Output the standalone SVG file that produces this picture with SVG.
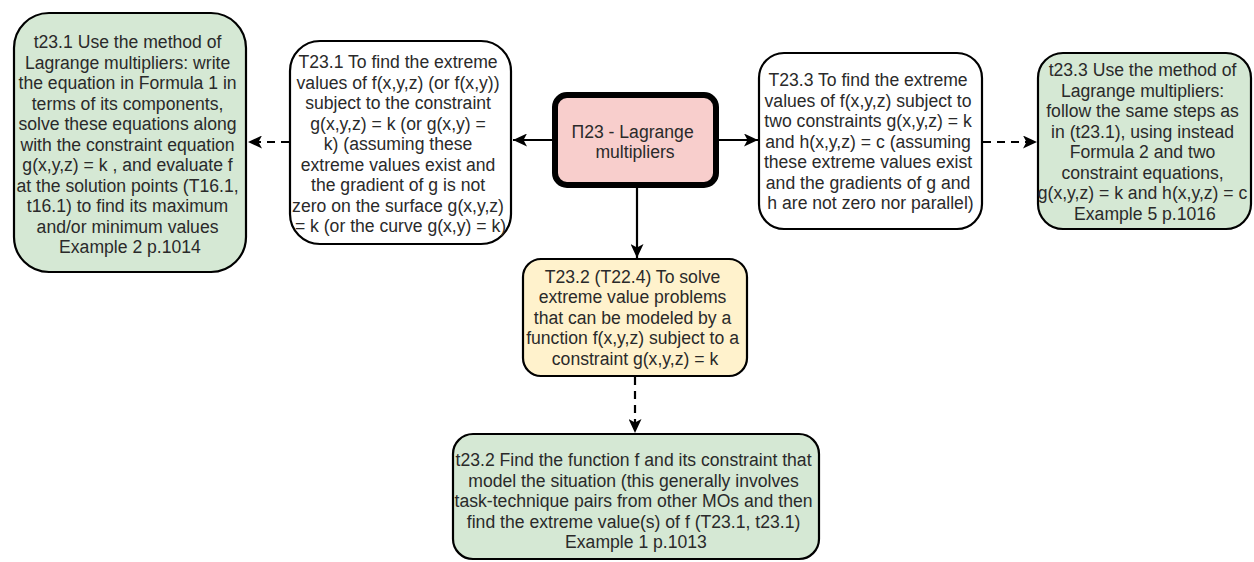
<svg xmlns="http://www.w3.org/2000/svg" width="1254" height="562" viewBox="0 0 1254 562">
<defs>
<style>
.box{stroke:#000;stroke-width:2.2}
.g{fill:#d5e8d4}
.w{fill:#ffffff}
.y{fill:#fff2cc}
.p{fill:#f8cecc;stroke:#000;stroke-width:6}
text{font-family:"Liberation Sans",Arial,sans-serif;font-size:17.6px;fill:#2a2a2a;text-anchor:middle}
.c{stroke:#000;stroke-width:2.2;fill:none}
.d{stroke-dasharray:8 6}
</style>
<marker id="arr" markerUnits="userSpaceOnUse" markerWidth="15" markerHeight="13" refX="14" refY="6.5" orient="auto">
<path d="M0,0 L14,6.5 L0,13 L3.5,6.5 z" fill="#000"/>
</marker>
</defs>
<rect width="1254" height="562" fill="#fff"/>
<g id="connectors">
<line class="c" x1="552" y1="140" x2="513" y2="140" marker-end="url(#arr)"/>
<line class="c d" x1="289" y1="142" x2="248" y2="142" marker-end="url(#arr)"/>
<line class="c" x1="719" y1="140" x2="758" y2="140" marker-end="url(#arr)"/>
<line class="c d" x1="983" y1="142" x2="1037" y2="142" marker-end="url(#arr)"/>
<line class="c" x1="637" y1="188" x2="637" y2="258" marker-end="url(#arr)"/>
<line class="c d" x1="635" y1="377" x2="635" y2="433" marker-end="url(#arr)"/>
</g>
<g id="n_t231">
<rect class="box g" x="14" y="13" width="232" height="259" rx="35"/>
<text y="48">
<tspan x="130">t23.1 Use the method of</tspan>
<tspan x="130" dy="20.5">Lagrange multipliers: write</tspan>
<tspan x="130" dy="20.5">the equation in Formula 1 in</tspan>
<tspan x="130" dy="20.5">terms of its components,</tspan>
<tspan x="130" dy="20.5">solve these equations along</tspan>
<tspan x="130" dy="20.5">with the constraint equation</tspan>
<tspan x="130" dy="20.5">g(x,y,z) = k , and evaluate f</tspan>
<tspan x="130" dy="20.5">at the solution points (T16.1,</tspan>
<tspan x="130" dy="20.5">t16.1) to find its maximum</tspan>
<tspan x="130" dy="20.5">and/or minimum values</tspan>
<tspan x="130" dy="20.5">Example 2 p.1014</tspan>
</text>
</g>
<g id="n_T231">
<rect class="box w" x="290" y="41" width="221" height="203" rx="30"/>
<text y="68">
<tspan x="400.5">T23.1 To find the extreme</tspan>
<tspan x="400.5" dy="20.5">values of f(x,y,z) (or f(x,y))</tspan>
<tspan x="400.5" dy="20.5">subject to the constraint</tspan>
<tspan x="400.5" dy="20.5">g(x,y,z) = k (or g(x,y) =</tspan>
<tspan x="400.5" dy="20.5">k) (assuming these</tspan>
<tspan x="400.5" dy="20.5">extreme values exist and</tspan>
<tspan x="400.5" dy="20.5">the gradient of g is not</tspan>
<tspan x="400.5" dy="20.5">zero on the surface g(x,y,z)</tspan>
<tspan x="400.5" dy="20.5">= k (or the curve g(x,y) = k)</tspan>
</text>
</g>
<g id="n_P23">
<rect class="p" x="555" y="95" width="161" height="90" rx="12"/>
<text y="137.5">
<tspan x="635">Π23 - Lagrange</tspan>
<tspan x="635" dy="20.5">multipliers</tspan>
</text>
</g>
<g id="n_T233">
<rect class="box w" x="759" y="53" width="223" height="176" rx="25"/>
<text y="86">
<tspan x="870.5">T23.3 To find the extreme</tspan>
<tspan x="870.5" dy="20.5">values of f(x,y,z) subject to</tspan>
<tspan x="870.5" dy="20.5">two constraints g(x,y,z) = k</tspan>
<tspan x="870.5" dy="20.5">and h(x,y,z) = c (assuming</tspan>
<tspan x="870.5" dy="20.5">these extreme values exist</tspan>
<tspan x="870.5" dy="20.5">and the gradients of g and</tspan>
<tspan x="870.5" dy="20.5">h are not zero nor parallel)</tspan>
</text>
</g>
<g id="n_t233">
<rect class="box g" x="1038" y="53" width="213" height="176" rx="25"/>
<text y="76">
<tspan x="1145">t23.3 Use the method of</tspan>
<tspan x="1145" dy="20.5">Lagrange multipliers:</tspan>
<tspan x="1145" dy="20.5">follow the same steps as</tspan>
<tspan x="1145" dy="20.5">in (t23.1), using instead</tspan>
<tspan x="1145" dy="20.5">Formula 2 and two</tspan>
<tspan x="1145" dy="20.5">constraint equations,</tspan>
<tspan x="1145" dy="20.5">g(x,y,z) = k and h(x,y,z) = c</tspan>
<tspan x="1145" dy="20.5">Example 5 p.1016</tspan>
</text>
</g>
<g id="n_T232">
<rect class="box y" x="523" y="259" width="224" height="117" rx="18"/>
<text y="283">
<tspan x="635">T23.2 (T22.4) To solve</tspan>
<tspan x="635" dy="20.4">extreme value problems</tspan>
<tspan x="635" dy="20.4">that can be modeled by a</tspan>
<tspan x="635" dy="20.4">function f(x,y,z) subject to a</tspan>
<tspan x="635" dy="20.4">constraint g(x,y,z) = k</tspan>
</text>
</g>
<g id="n_t232">
<rect class="box g" x="453" y="434" width="366" height="125" rx="20"/>
<text y="466">
<tspan x="636">t23.2 Find the function f and its constraint that</tspan>
<tspan x="636" dy="20.6">model the situation (this generally involves</tspan>
<tspan x="636" dy="20.6">task-technique pairs from other MOs and then</tspan>
<tspan x="636" dy="20.6">find the extreme value(s) of f (T23.1, t23.1)</tspan>
<tspan x="636" dy="20.6">Example 1 p.1013</tspan>
</text>
</g>
</svg>
